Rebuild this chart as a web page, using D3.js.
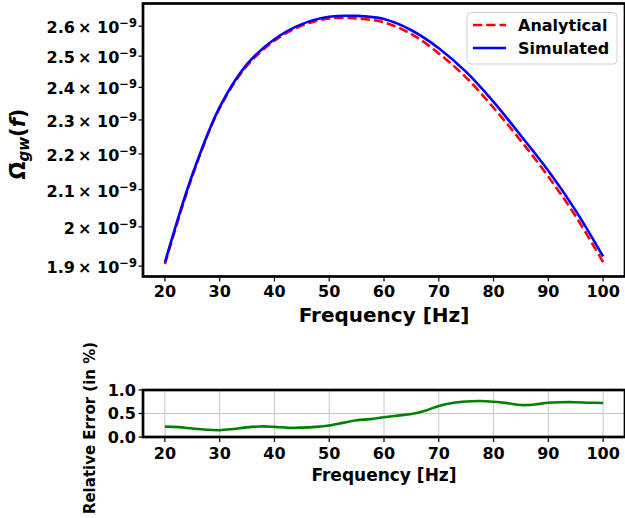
<!DOCTYPE html>
<html>
<head>
<meta charset="utf-8">
<script src="https://cdn.jsdelivr.net/npm/d3@7"></script>
<style>
  body { margin: 0; background: #fff; }
  text { font-family: "DejaVu Sans", sans-serif; font-weight: bold; fill: #000; }
</style>
</head>
<body>
<svg id="chart"></svg>
<script>
// --- data ---
const freqs = [20, 25, 30, 35, 40, 45, 50, 55, 60, 65, 70, 75, 80, 85, 90, 95, 100];
const analytical = [1.905e-9, 2.137e-9, 2.336e-9, 2.469e-9, 2.551e-9, 2.602e-9, 2.626e-9, 2.626e-9,
                    2.613e-9, 2.573e-9, 2.509e-9, 2.431e-9, 2.337e-9, 2.238e-9, 2.136e-9, 2.028e-9, 1.910e-9];
const simulated  = [1.909e-9, 2.141e-9, 2.339e-9, 2.474e-9, 2.556e-9, 2.607e-9, 2.632e-9, 2.635e-9,
                    2.624e-9, 2.586e-9, 2.526e-9, 2.449e-9, 2.355e-9, 2.253e-9, 2.152e-9, 2.043e-9, 1.924e-9];

const errFreqs = [20, 22.5, 25, 27.5, 30, 32.5, 35, 37.5, 40, 42.5, 45, 47.5, 50, 52.5, 55, 57.5, 60,
                  62.5, 65, 67.5, 70, 72.5, 75, 77.5, 80, 82.5, 85, 87.5, 90, 92.5, 95, 97.5, 100];
const relError = [0.22, 0.21, 0.18, 0.155, 0.145, 0.17, 0.205, 0.225, 0.215, 0.195, 0.2, 0.215, 0.245,
                  0.3, 0.355, 0.38, 0.42, 0.455, 0.49, 0.56, 0.66, 0.725, 0.755, 0.765, 0.75, 0.72,
                  0.68, 0.69, 0.73, 0.74, 0.74, 0.73, 0.725];

const freqTicks = [20, 30, 40, 50, 60, 70, 80, 90, 100];
const omegaTicks = [2.6e-9, 2.5e-9, 2.4e-9, 2.3e-9, 2.2e-9, 2.1e-9, 2.0e-9, 1.9e-9];
const omegaTickLabels = ["2.6", "2.5", "2.4", "2.3", "2.2", "2.1", "2", "1.9"];
const errTicks = [0, 0.5, 1.0];
const errTickLabels = ["0.0", "0.5", "1.0"];

// --- layout ---
const width = 625, height = 518;
const topBox = { left: 143, right: 625, top: 3.5, bottom: 276.5 };
const botBox = { left: 143, right: 625, top: 390, bottom: 437 };

const svg = d3.select("#chart")
    .attr("width", width)
    .attr("height", height)
    .attr("viewBox", [0, 0, width, height]);

// --- scales (matplotlib style 5% margins) ---
const fExt = d3.extent(freqs);
const fPad = (fExt[1] - fExt[0]) * 0.05;
const x = d3.scaleLinear()
    .domain([fExt[0] - fPad, fExt[1] + fPad])
    .range([topBox.left, topBox.right]);

const allOmega = analytical.concat(simulated);
const lo = d3.min(allOmega), hi = d3.max(allOmega);
const lnPad = (Math.log(hi) - Math.log(lo)) * 0.05;
const y = d3.scaleLog()
    .domain([lo * Math.exp(-lnPad), hi * Math.exp(lnPad)])
    .range([topBox.bottom, topBox.top]);

const yErr = d3.scaleLinear()
    .domain([0, 1])
    .range([botBox.bottom, botBox.top]);

// --- top panel ---
const line = d3.line()
    .x(d => x(d[0]))
    .y(d => y(d[1]))
    .curve(d3.curveCatmullRom.alpha(0.5));

svg.append("path")
    .attr("d", line(freqs.map((f, i) => [f, analytical[i]])))
    .attr("fill", "none")
    .attr("stroke", "red")
    .attr("stroke-width", 2.6)
    .attr("stroke-dasharray", "9.25,4");

svg.append("path")
    .attr("d", line(freqs.map((f, i) => [f, simulated[i]])))
    .attr("fill", "none")
    .attr("stroke", "blue")
    .attr("stroke-width", 2.6);

// x ticks
svg.append("g")
  .selectAll("line")
  .data(freqTicks)
  .join("line")
    .attr("x1", d => x(d)).attr("x2", d => x(d))
    .attr("y1", topBox.bottom).attr("y2", topBox.bottom + 5)
    .attr("stroke", "#000").attr("stroke-width", 1.2);

svg.append("g")
  .selectAll("text")
  .data(freqTicks)
  .join("text")
    .attr("x", d => x(d))
    .attr("y", 297)
    .attr("text-anchor", "middle")
    .attr("font-size", 16)
    .text(d => d);

svg.append("text")
    .attr("x", (topBox.left + topBox.right) / 2)
    .attr("y", 321.5)
    .attr("text-anchor", "middle")
    .attr("font-size", 20)
    .text("Frequency [Hz]");

// y ticks (log)
svg.append("g")
  .selectAll("line")
  .data(omegaTicks)
  .join("line")
    .attr("x1", topBox.left - 4.5).attr("x2", topBox.left)
    .attr("y1", d => y(d)).attr("y2", d => y(d))
    .attr("stroke", "#000").attr("stroke-width", 1.2);

const yLab = svg.append("g")
  .selectAll("text")
  .data(omegaTicks)
  .join("text")
    .attr("x", 137)
    .attr("y", d => y(d) + 7)
    .attr("text-anchor", "end")
    .attr("font-size", 16);
yLab.append("tspan").text((d, i) => omegaTickLabels[i] + "\u2009× " + "10");
yLab.append("tspan").attr("dy", -6).attr("font-size", 11.5).text("\u22129");

// y label
const omegaLabel = svg.append("text")
    .attr("transform", "translate(25,144) rotate(-90)")
    .attr("text-anchor", "middle")
    .attr("font-size", 21);
omegaLabel.append("tspan").text("\u03A9\u0304");
omegaLabel.append("tspan").attr("dy", 4).attr("font-size", 15).attr("font-style", "italic").text("gw");
omegaLabel.append("tspan").attr("dy", -4).text("(");
omegaLabel.append("tspan").attr("font-style", "italic").text("f");
omegaLabel.append("tspan").text(")");

// frame
svg.append("rect")
    .attr("x", topBox.left).attr("y", topBox.top)
    .attr("width", topBox.right - topBox.left)
    .attr("height", topBox.bottom - topBox.top)
    .attr("fill", "none").attr("stroke", "#000").attr("stroke-width", 2.7);

// legend
const legend = svg.append("g");
legend.append("rect")
    .attr("x", 467).attr("y", 12.5)
    .attr("width", 150).attr("height", 51.5)
    .attr("rx", 4)
    .attr("fill", "#fff").attr("fill-opacity", 0.8)
    .attr("stroke", "#d0d0d0").attr("stroke-width", 1);
const legendItems = [
    { name: "Analytical", color: "red", dash: "9.25,4" },
    { name: "Simulated", color: "blue", dash: null }
];
legendItems.forEach((item, i) => {
    const ly = 25 + i * 23;
    legend.append("line")
        .attr("x1", 473).attr("x2", 506)
        .attr("y1", ly).attr("y2", ly)
        .attr("stroke", item.color).attr("stroke-width", 2.6)
        .attr("stroke-dasharray", item.dash);
    legend.append("text")
        .attr("x", 518).attr("y", ly + 6)
        .attr("font-size", 16)
        .text(item.name);
});

// --- bottom panel ---
const grid = svg.append("g").attr("stroke", "#c8c8c8").attr("stroke-width", 1);
grid.selectAll(".vg")
  .data(freqTicks)
  .join("line")
    .attr("class", "vg")
    .attr("x1", d => x(d)).attr("x2", d => x(d))
    .attr("y1", botBox.top).attr("y2", botBox.bottom);
grid.selectAll(".hg")
  .data(errTicks)
  .join("line")
    .attr("class", "hg")
    .attr("x1", botBox.left).attr("x2", botBox.right)
    .attr("y1", d => yErr(d)).attr("y2", d => yErr(d));

svg.append("path")
    .attr("d", d3.line()
        .x(d => x(d[0]))
        .y(d => yErr(d[1]))
        .curve(d3.curveCatmullRom.alpha(0.5))(errFreqs.map((f, i) => [f, relError[i]])))
    .attr("fill", "none")
    .attr("stroke", "green")
    .attr("stroke-width", 2.6);

svg.append("rect")
    .attr("x", botBox.left).attr("y", botBox.top)
    .attr("width", botBox.right - botBox.left)
    .attr("height", botBox.bottom - botBox.top)
    .attr("fill", "none").attr("stroke", "#000").attr("stroke-width", 2.7);

svg.append("g")
  .selectAll("line")
  .data(freqTicks)
  .join("line")
    .attr("x1", d => x(d)).attr("x2", d => x(d))
    .attr("y1", botBox.bottom).attr("y2", botBox.bottom + 5)
    .attr("stroke", "#000").attr("stroke-width", 1.2);

svg.append("g")
  .selectAll("text")
  .data(freqTicks)
  .join("text")
    .attr("x", d => x(d))
    .attr("y", 458.5)
    .attr("text-anchor", "middle")
    .attr("font-size", 16)
    .text(d => d);

svg.append("g")
  .selectAll("line")
  .data(errTicks)
  .join("line")
    .attr("x1", botBox.left - 4.5).attr("x2", botBox.left)
    .attr("y1", d => yErr(d)).attr("y2", d => yErr(d))
    .attr("stroke", "#000").attr("stroke-width", 1.2);

svg.append("g")
  .selectAll("text")
  .data(errTicks)
  .join("text")
    .attr("x", 136)
    .attr("y", d => yErr(d) + 5.8)
    .attr("text-anchor", "end")
    .attr("font-size", 16)
    .text((d, i) => errTickLabels[i]);

svg.append("text")
    .attr("x", (botBox.left + botBox.right) / 2)
    .attr("y", 480.5)
    .attr("text-anchor", "middle")
    .attr("font-size", 17)
    .text("Frequency [Hz]");

svg.append("text")
    .attr("transform", "translate(95,428) rotate(-90)")
    .attr("text-anchor", "middle")
    .attr("font-size", 15)
    .text("Relative Error (in %)");
</script>
</body>
</html>
